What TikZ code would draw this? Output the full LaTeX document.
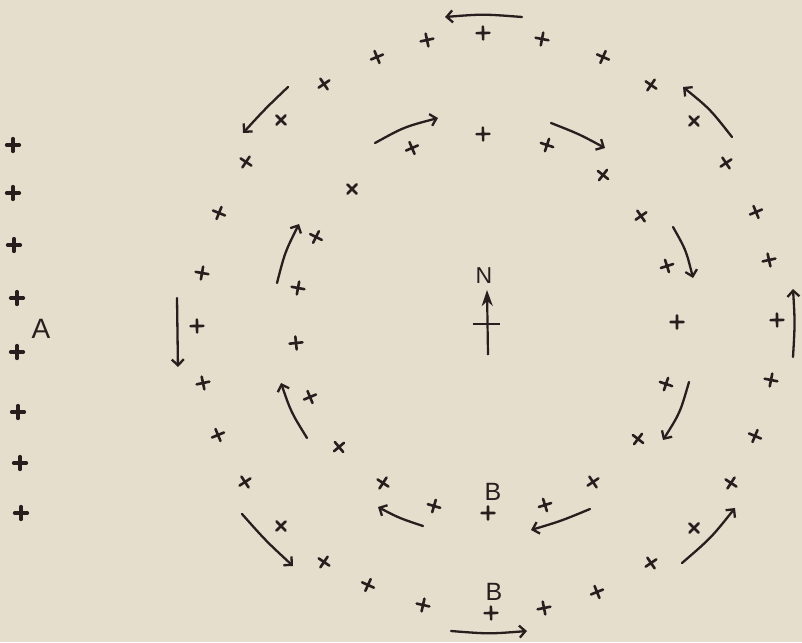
\documentclass[tikz,border=0pt]{standalone}
\usepackage{fontspec}
\setmainfont{Liberation Sans}
\usetikzlibrary{arrows.meta}
\definecolor{paper}{RGB}{229,222,205}
\definecolor{ink}{RGB}{40,30,30}
\newcommand\mycross[2]{%
  \pgfmathsetmacro\myang{atan2(323-#2,#1-487)}%
  \draw[crossline,shift={(#1,#2)},rotate=\myang] (-6.5,0)--(6.5,0) (0,-6.5)--(0,6.5);}
\newcommand\boldcross[2]{%
  \draw[crossline,line width=3.2pt,shift={(#1,#2)}] (-6.5,0)--(6.5,0) (0,-6.5)--(0,6.5);}
\tikzset{
  crossline/.style={ink,line width=2.6pt,line cap=round},
  arr/.style={ink,line width=2.3pt,line cap=round,-{Straight Barb[length=6pt,width=12pt]}},
  lbl/.style={ink,inner sep=0pt,font=\fontsize{25}{25}\selectfont}
}
\begin{document}
\begin{tikzpicture}[x=1pt,y=-1pt]
\fill[paper] (0,0) rectangle (802,642);
\useasboundingbox (0,0) rectangle (802,642);
% left column
\foreach \p/\q in {13/145,13/193,14/245,17/298,17/352,18/412,20/463,21/513} {\boldcross{\p}{\q}}
\node[lbl,font=\fontsize{28}{28}\selectfont] (A) at (41,329) {A};
% outer ring
\foreach \p/\q in {483/33,542/39,603/57,651/85,694/121,726/163,756/212,769/260,777/320,771/380,755/436,731/483,694/528,651/563,597/592,544/608,491/613,423/605,368/585,324/562,281/526,245/482,218/435,203/383,197/326,202/273,219/213,246/162,281/120,324/84,377/57,427/40} {\mycross{\p}{\q}}
% inner ring
\foreach \p/\q in {483/134,547/145,603/175,641/216,667/266,677/322,666/384,638/439,593/482,545/505,488/513,434/506,383/483,339/447,310/397,296/343,298/288,316/237,352/189,412/148} {\mycross{\p}{\q}}
% letters
\node[lbl,font=\fontsize{23}{23}\selectfont] (N) at (484,276) {N};
\node[lbl] (B1) at (493,492) {B};
\node[lbl] (B2) at (494,592) {B};
% north arrow
\draw[ink,line width=2.2pt,-{Stealth[length=16pt,width=11pt,inset=5pt]}] (488,355) -- (487,290);
\draw[ink,line width=2.2pt] (473,324) -- (500,324);
% arrows
\draw[arr] (522,17) .. controls (483,14) .. (445,17);
\draw[arr] (288,87) .. controls (265,109) .. (243,133);
\draw[arr] (375,143) .. controls (404,127) .. (438,118);
\draw[arr] (551,123) .. controls (579,134) .. (605,148);
\draw[arr] (732,137) .. controls (710,109) .. (683,87);
\draw[arr] (673,227) .. controls (686,250) .. (693,278);
\draw[arr] (793,357) .. controls (795,323) .. (793,289);
\draw[arr] (689,382) .. controls (680,413) .. (663,440);
\draw[arr] (682,563) .. controls (711,538) .. (735,508);
\draw[arr] (590,509) .. controls (561,521) .. (531,530);
\draw[arr] (423,526) .. controls (399,518) .. (378,507);
\draw[arr] (451,631) .. controls (489,634) .. (527,631);
\draw[arr] (242,514) .. controls (266,541) .. (293,566);
\draw[arr] (307,438) .. controls (291,412) .. (281,383);
\draw[arr] (177,298) .. controls (177,332) .. (178,367);
\draw[arr] (277,283) .. controls (285,252) .. (299,224);
\end{tikzpicture}
\end{document}
